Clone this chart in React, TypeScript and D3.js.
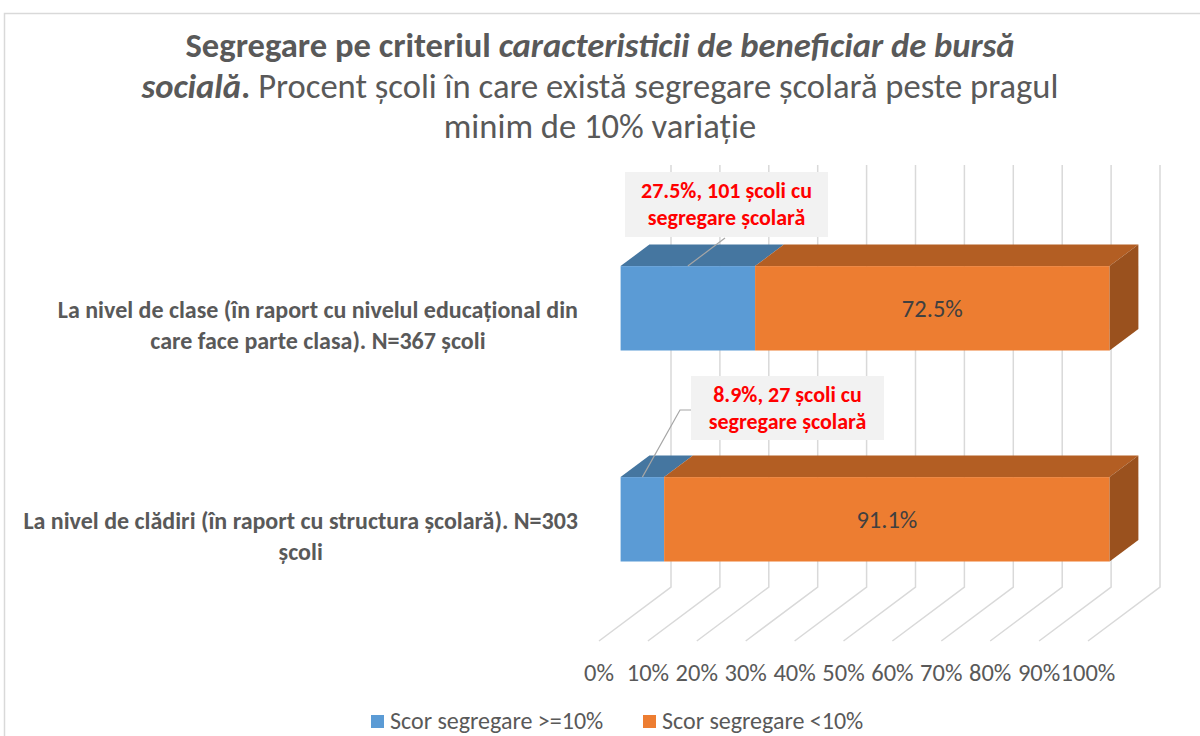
import React, { useEffect, useRef } from 'react';
import * as d3 from 'd3';

// data
const categoryKeys = ['clase', 'cladiri'];
const categoryLines = [
  ['La nivel de clase (în raport cu nivelul educațional din', 'care face parte clasa). N=367 școli'],
  ['La nivel de clădiri (în raport cu structura școlară). N=303', 'școli'],
];
const segregatedPct = [27.5, 8.9];
const notSegregatedPct = [72.5, 91.1];
const segregatedSchools = [101, 27];
const xTicks = [0, 10, 20, 30, 40, 50, 60, 70, 80, 90, 100];
const seriesNames = ['Scor segregare >=10%', 'Scor segregare <10%'];

const FONT = "Carlito, Calibri, Lato, 'Noto Sans', sans-serif";
const GRAY = '#595959';
const GRID = '#d9d9d9';

// 3d look: full depth offset of the plot box
const DX = 72;
const DY = -54;

const colors = {
  blue: { front: '#5b9bd5', top: '#4576a0', side: '#3f6c94' },
  orange: { front: '#ed7d31', top: '#b35e23', side: '#9a511e' },
};

const App = () => {
  const svgRef = useRef<SVGSVGElement>(null);

  useEffect(() => {
    const svg = d3.select(svgRef.current);
    svg.selectAll('*').remove();

    // chart frame
    svg
      .append('rect')
      .attr('x', 4.5)
      .attr('y', 13.5)
      .attr('width', 1220)
      .attr('height', 760)
      .attr('fill', '#fff')
      .attr('stroke', GRID)
      .attr('stroke-width', 1.5);

    // title
    const title = svg
      .append('text')
      .attr('text-anchor', 'middle')
      .attr('fill', GRAY)
      .style('font-family', FONT)
      .style('font-size', '34.6px');
    title.append('tspan').attr('x', 600).attr('y', 57).style('font-weight', 'bold').text('Segregare pe criteriul ');
    title
      .append('tspan')
      .style('font-weight', 'bold')
      .style('font-style', 'italic')
      .text('caracteristicii de beneficiar de bursă');
    title
      .append('tspan')
      .attr('x', 600)
      .attr('y', 97.5)
      .style('font-weight', 'bold')
      .style('font-style', 'italic')
      .text('socială');
    title.append('tspan').style('font-weight', 'bold').text('.');
    title.append('tspan').text(' Procent școli în care există segregare școlară peste pragul');
    title.append('tspan').attr('x', 600).attr('y', 138).text('minim de 10% variație');

    // scales (front plane)
    const x = d3.scaleLinear().domain([0, 100]).range([599, 1088]);
    const y = d3
      .scaleBand()
      .domain(categoryKeys)
      .range([219, 641])
      .paddingInner(0.6)
      .paddingOuter(0.3);
    const floorY = 641;
    const topY = 219;

    // gridlines: back wall + floor
    const grid = svg.append('g').attr('stroke', GRID).attr('stroke-width', 1.5).attr('fill', 'none');
    xTicks.forEach((t) => {
      grid
        .append('path')
        .attr('d', `M${x(t) + DX},${topY + DY}V${floorY + DY}L${x(t)},${floorY}`);
    });

    // x axis labels
    svg
      .append('g')
      .selectAll('text')
      .data(xTicks)
      .enter()
      .append('text')
      .attr('x', (d) => x(d))
      .attr('y', 681)
      .attr('text-anchor', 'middle')
      .attr('fill', GRAY)
      .style('font-family', FONT)
      .style('font-size', '24.5px')
      .text((d) => `${d}%`);

    // category labels, block right-aligned at the plot edge
    categoryKeys.forEach((key, i) => {
      const cy = (y(key) as number) + y.bandwidth() / 2;
      const lines = categoryLines[i];
      const label = svg
        .append('text')
        .attr('fill', GRAY)
        .attr('text-anchor', 'middle')
        .style('font-family', FONT)
        .style('font-size', '24px')
        .style('font-weight', 'bold');
      const spans = lines.map((line, j) =>
        label
          .append('tspan')
          .attr('y', cy + (j - (lines.length - 1) / 2) * 30.5 + 9)
          .text(line)
      );
      const maxW = d3.max(spans, (s) => (s.node() as SVGTSpanElement).getComputedTextLength()) || 0;
      spans.forEach((s) => s.attr('x', 578 - maxW / 2));
    });

    // bars
    const d0 = 0.3;
    const d1 = 0.7;
    const bdx = DX * (d1 - d0);
    const bdy = DY * (d1 - d0);
    categoryKeys.forEach((key, i) => {
      const segs = [
        { s: 0, e: segregatedPct[i], c: colors.blue },
        { s: segregatedPct[i], e: segregatedPct[i] + notSegregatedPct[i], c: colors.orange },
      ];
      const yt = (y(key) as number) + DY * d0;
      const yb = yt + y.bandwidth();
      const g = svg.append('g');
      segs.forEach((seg, k) => {
        const x0 = x(seg.s) + DX * d0;
        const x1 = x(seg.e) + DX * d0;
        g.append('rect')
          .attr('x', x0)
          .attr('y', yt)
          .attr('width', x1 - x0)
          .attr('height', yb - yt)
          .attr('fill', seg.c.front);
        g.append('path')
          .attr('d', `M${x0},${yt}L${x1},${yt}L${x1 + bdx},${yt + bdy}L${x0 + bdx},${yt + bdy}Z`)
          .attr('fill', seg.c.top);
        if (k === segs.length - 1) {
          g.append('path')
            .attr('d', `M${x1},${yt}L${x1 + bdx},${yt + bdy}L${x1 + bdx},${yb + bdy}L${x1},${yb}Z`)
            .attr('fill', seg.c.side);
        }
      });

      // value label on orange
      const o = segs[1];
      g.append('text')
        .attr('x', (x(o.s) + x(o.e)) / 2 + DX * d0)
        .attr('y', (yt + yb) / 2 + 9)
        .attr('text-anchor', 'middle')
        .attr('fill', '#404040')
        .style('font-family', FONT)
        .style('font-size', '24.5px')
        .text(`${notSegregatedPct[i]}%`);
    });

    // callouts for the blue segment
    const callouts = [
      { box: [625, 172, 203, 65], from: [[725, 238]] },
      { box: [691, 376, 193, 64], from: [[691, 410], [680, 410]] },
    ];
    callouts.forEach((cl, i) => {
      const key = categoryKeys[i];
      const tx = x(segregatedPct[i] / 2) + DX * d0;
      const ty = (y(key) as number) + DY * d0;
      const pts = [...cl.from, [tx, ty]];
      svg
        .append('path')
        .attr('d', d3.line()(pts as [number, number][]))
        .attr('fill', 'none')
        .attr('stroke', '#a6a6a6')
        .attr('stroke-width', 1.2);
      const [bx, by, bw, bh] = cl.box;
      svg.append('rect').attr('x', bx).attr('y', by).attr('width', bw).attr('height', bh).attr('fill', '#f2f2f2');
      const t = svg
        .append('text')
        .attr('text-anchor', 'middle')
        .attr('fill', '#ff0000')
        .style('font-family', FONT)
        .style('font-size', '22px')
        .style('font-weight', 'bold');
      t.append('tspan')
        .attr('x', bx + bw / 2)
        .attr('y', by + bh / 2 - 6.5)
        .text(`${segregatedPct[i]}%, ${segregatedSchools[i]} școli cu`);
      t.append('tspan')
        .attr('x', bx + bw / 2)
        .attr('y', by + bh / 2 + 20.5)
        .text('segregare școlară');
    });

    // legend
    const legend = svg.append('g');
    const legendX = [371, 643];
    [colors.blue.front, colors.orange.front].forEach((c, i) => {
      legend.append('rect').attr('x', legendX[i]).attr('y', 715).attr('width', 13).attr('height', 13).attr('fill', c);
      legend
        .append('text')
        .attr('x', legendX[i] + 19)
        .attr('y', 729)
        .attr('fill', GRAY)
        .style('font-family', FONT)
        .style('font-size', '24px')
        .text(seriesNames[i]);
    });
  }, []);

  return (
    <svg
      ref={svgRef}
      width={1200}
      height={736}
      style={{ position: 'absolute', left: 0, top: 0, background: '#fff' }}
    />
  );
};

export default App;
